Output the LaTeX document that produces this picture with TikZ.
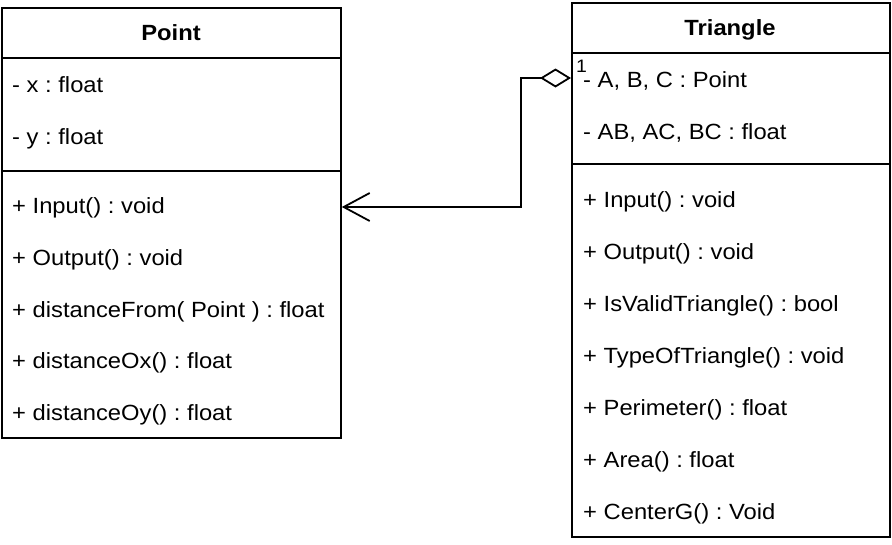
\documentclass[tikz,border=0pt]{standalone}
\usepackage{fontspec}
\setmainfont{Liberation Sans}[FakeStretch=1.08]
\usetikzlibrary{arrows.meta}
\frenchspacing
\begin{document}
\begin{tikzpicture}[x=1pt,y=-1pt,
  box/.style={draw, line width=1.8pt, anchor=north west, inner sep=0pt},
  sepline/.style={line width=1.8pt},
  member/.style={anchor=base west, inner sep=0pt, font=\fontsize{22}{26}\selectfont},
  title/.style={anchor=base, inner sep=0pt, font=\fontsize{22}{26}\selectfont\bfseries},
  conn/.style={line width=1.8pt},
  mult/.style={anchor=base west, inner sep=0pt, font=\fontsize{18}{22}\selectfont}]
\useasboundingbox (0,0) rectangle (892,544);
% Point class
\node[box, minimum width=339pt, minimum height=430pt] (point) at (1,7) {};
\node[title] (ptitle) at (171,40) {Point};
\draw[sepline] (point.west |- 0,58) -- (point.east |- 0,58);
\draw[sepline] (point.west |- 0,171) -- (point.east |- 0,171);
\node[member] (pa1) at (12,92) {- x : float};
\node[member] (pa2) at (12,144) {- y : float};
\node[member] (pm1) at (12,213) {+ Input() : void};
\node[member] (pm2) at (12,265) {+ Output() : void};
\node[member] (pm3) at (12,317) {+ distanceFrom( Point ) : float};
\node[member] (pm4) at (12,368) {+ distanceOx() : float};
\node[member] (pm5) at (12,420) {+ distanceOy() : float};
% Triangle class
\node[box, minimum width=318pt, minimum height=534pt] (tri) at (571,2) {};
\node[title] (ttitle) at (730,35) {Triangle};
\draw[sepline] (tri.west |- 0,53) -- (tri.east |- 0,53);
\draw[sepline] (tri.west |- 0,164) -- (tri.east |- 0,164);
\node[member] (ta1) at (583,87) {- A, B, C : Point};
\node[member] (ta2) at (583,139) {- AB, AC, BC : float};
\node[member] (tm1) at (583,207) {+ Input() : void};
\node[member] (tm2) at (583,259) {+ Output() : void};
\node[member] (tm3) at (583,311) {+ IsValidTriangle() : bool};
\node[member] (tm4) at (583,363) {+ TypeOfTriangle() : void};
\node[member] (tm5) at (583,415) {+ Perimeter() : float};
\node[member] (tm6) at (583,467) {+ Area() : float};
\node[member] (tm7) at (583,519) {+ CenterG() : Void};
% connector
\coordinate (src) at (tri.west |- 0,78);
\coordinate (dst) at (point.east |- 0,207);
\draw[conn, {Diamond[open, length=31pt, width=19pt, line width=1.8pt]}-{Straight Barb[length=26pt, width=28pt, line width=1.8pt]}]
  (src) -- (521,78) -- (521,207) -- (dst);
\node[mult] (m1) at (576,72) {1};
\end{tikzpicture}
\end{document}
